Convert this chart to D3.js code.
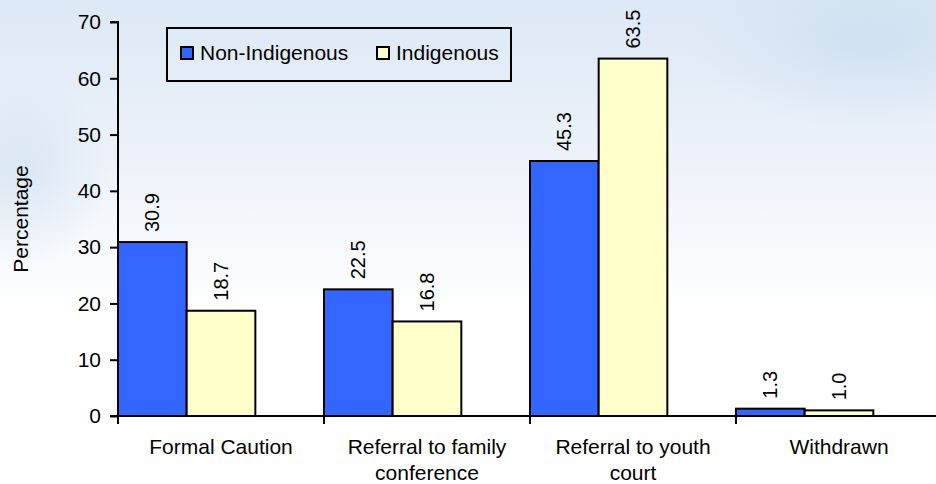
<!DOCTYPE html>
<html>
<head>
<meta charset="utf-8">
<script src="https://cdn.jsdelivr.net/npm/d3@7"></script>
<style>
  body { margin: 0; padding: 0; overflow: hidden; }
  svg { display: block; font-family: "Liberation Sans", Arial, sans-serif; }
</style>
</head>
<body>
<div id="chart"></div>
<script>
// Chart data
var categories = ["Formal Caution", "Referral to family conference", "Referral to youth court", "Withdrawn"];
var catLines = [["Formal Caution"], ["Referral to family", "conference"], ["Referral to youth", "court"], ["Withdrawn"]];
var seriesNames = ["Non-Indigenous", "Indigenous"];
var nonIndigenous = [30.9, 22.5, 45.3, 1.3];
var indigenous = [18.7, 16.8, 63.5, 1.0];
var yTicks = [0, 10, 20, 30, 40, 50, 60, 70];
var colors = ["#3366FF", "#FFFFCC"];

var svgWidth = 936;
var svgHeight = 484;

// Plot area
var cM = { top: 22, left: 118, bottom: 68 };
var plotBottom = svgHeight - cM.bottom;

var svg = d3.select("#chart")
  .append("svg")
  .attr("width", svgWidth)
  .attr("height", svgHeight);

// Background: pale sky
var defs = svg.append("defs");
var bg = defs.append("linearGradient").attr("id", "bg")
  .attr("x1", 0).attr("y1", 0).attr("x2", 0).attr("y2", 1);
bg.append("stop").attr("offset", "0%").attr("stop-color", "#dce8f5");
bg.append("stop").attr("offset", "35%").attr("stop-color", "#eef3fa");
bg.append("stop").attr("offset", "65%").attr("stop-color", "#ffffff");
bg.append("stop").attr("offset", "100%").attr("stop-color", "#ffffff");

var glow = defs.append("radialGradient").attr("id", "glow")
  .attr("cx", "0.5").attr("cy", "0.5").attr("r", "0.5");
glow.append("stop").attr("offset", "0%").attr("stop-color", "#cfe0f1").attr("stop-opacity", 0.9);
glow.append("stop").attr("offset", "100%").attr("stop-color", "#cfe0f1").attr("stop-opacity", 0);

svg.append("rect")
  .attr("width", svgWidth).attr("height", svgHeight)
  .attr("fill", "url(#bg)");
svg.append("ellipse")
  .attr("cx", 870).attr("cy", 40).attr("rx", 180).attr("ry", 90)
  .attr("fill", "url(#glow)");
svg.append("ellipse")
  .attr("cx", 20).attr("cy", 170).attr("rx", 90).attr("ry", 100)
  .attr("fill", "url(#glow)").attr("opacity", 0.7);

// Scales
var x0 = d3.scaleBand()
  .domain(categories)
  .range([cM.left, cM.left + 4 * 206])
  .paddingInner(0).paddingOuter(0);

var x1 = d3.scaleBand()
  .domain(seriesNames)
  .range([0, x0.bandwidth() * 2 / 3]);

var yScale = d3.scaleLinear()
  .domain([0, 70])
  .range([plotBottom, cM.top]);

var rows = categories.map(function(c, i) {
  return { cat: c, values: [nonIndigenous[i], indigenous[i]] };
});

// Bars
var groups = svg.selectAll("g.cat")
  .data(rows).enter()
  .append("g")
  .attr("class", "cat")
  .attr("transform", d => `translate(${x0(d.cat)},0)`);

groups.selectAll("rect")
  .data(d => d.values.map((v, j) => ({ name: seriesNames[j], value: v, j: j })))
  .enter()
  .append("rect")
  .attr("x", d => x1(d.name))
  .attr("y", d => yScale(d.value))
  .attr("width", x1.bandwidth())
  .attr("height", d => plotBottom - yScale(d.value))
  .attr("fill", d => colors[d.j])
  .attr("stroke", "#000")
  .attr("stroke-width", 2);

// Value labels (rotated)
groups.selectAll("text.val")
  .data(d => d.values.map((v, j) => ({ name: seriesNames[j], value: v })))
  .enter()
  .append("text")
  .attr("class", "val")
  .attr("transform", d => `translate(${x1(d.name) + x1.bandwidth() / 2 + 7},${yScale(d.value) - 10}) rotate(-90)`)
  .attr("text-anchor", "start")
  .attr("font-size", 20)
  .attr("fill", "#000")
  .text(d => d.value.toFixed(1));

// Y axis
var leftAxis = d3.axisLeft(yScale)
  .tickValues(yTicks)
  .tickSize(8)
  .tickPadding(9)
  .tickFormat(d3.format("d"));

var yAxisG = svg.append("g")
  .attr("transform", `translate(${cM.left},0)`)
  .call(leftAxis);
yAxisG.select(".domain").attr("stroke", "#000").attr("stroke-width", 2)
  .attr("d", `M-8,${cM.top}H0V${plotBottom}`);
yAxisG.selectAll(".tick line").attr("stroke", "#000").attr("stroke-width", 2);
yAxisG.selectAll(".tick text").attr("font-size", 21).attr("font-family", "Liberation Sans, Arial, sans-serif").attr("fill", "#000");

// X axis line and category ticks
svg.append("line")
  .attr("x1", cM.left - 8).attr("x2", svgWidth)
  .attr("y1", plotBottom).attr("y2", plotBottom)
  .attr("stroke", "#000").attr("stroke-width", 2);

svg.selectAll("line.xtick")
  .data(categories).enter()
  .append("line")
  .attr("class", "xtick")
  .attr("x1", d => x0(d)).attr("x2", d => x0(d))
  .attr("y1", plotBottom).attr("y2", plotBottom + 8)
  .attr("stroke", "#000").attr("stroke-width", 2);

// Category labels
var catText = svg.selectAll("text.catlabel")
  .data(categories).enter()
  .append("text")
  .attr("class", "catlabel")
  .attr("x", d => x0(d) + x0.bandwidth() / 2)
  .attr("y", plotBottom + 38)
  .attr("text-anchor", "middle")
  .attr("font-size", 21)
  .attr("fill", "#000");

catText.each(function(d, i) {
  var t = d3.select(this);
  catLines[i].forEach(function(line, k) {
    t.append("tspan")
      .attr("x", x0(d) + x0.bandwidth() / 2)
      .attr("dy", k === 0 ? 0 : 26)
      .text(line);
  });
});

// Y axis title
svg.append("text")
  .attr("transform", `translate(28,${(cM.top + plotBottom) / 2}) rotate(-90)`)
  .attr("text-anchor", "middle")
  .attr("font-size", 21)
  .attr("fill", "#000")
  .text("Percentage");

// Legend
var legend = svg.append("g").attr("transform", "translate(167,28)");
legend.append("rect")
  .attr("width", 344).attr("height", 53)
  .attr("fill", "none")
  .attr("stroke", "#000").attr("stroke-width", 2);

var legendX = [14, 210];
seriesNames.forEach(function(name, j) {
  legend.append("rect")
    .attr("x", legendX[j]).attr("y", 19)
    .attr("width", 12).attr("height", 12)
    .attr("fill", colors[j])
    .attr("stroke", "#000").attr("stroke-width", 2);
  legend.append("text")
    .attr("x", legendX[j] + 19).attr("y", 32)
    .attr("font-size", 21)
    .attr("fill", "#000")
    .text(name);
});
</script>
</body>
</html>
